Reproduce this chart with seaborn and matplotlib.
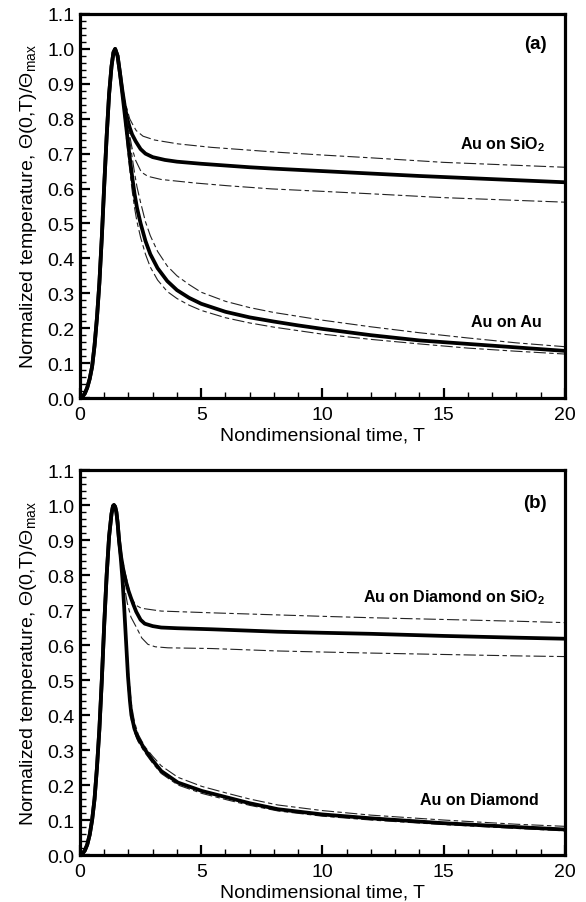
import numpy as np
import pandas as pd
import seaborn as sns
import matplotlib.pyplot as plt
from matplotlib.ticker import MultipleLocator

# ---------------- data ----------------
# (a) laser pulse rise, shared by both cases
t_rise_a = [0, 0.1, 0.2, 0.3, 0.4, 0.5, 0.6, 0.7, 0.8, 0.9, 1.0, 1.1, 1.2, 1.3, 1.38, 1.45]
v_rise_a = [0, 0.004, 0.013, 0.03, 0.055, 0.09, 0.15, 0.23, 0.33, 0.46, 0.61, 0.75, 0.87, 0.95, 0.99, 1.0]

# (a) Au on SiO2
t_sio2 = [1.55, 1.65, 1.75, 1.85, 1.95, 2.05, 2.15, 2.3, 2.5, 2.7, 3.0, 3.5, 4, 5, 6, 7, 8, 10, 12, 14, 16, 18, 20]
v_sio2 = [0.98, 0.93, 0.88, 0.835, 0.80, 0.775, 0.755, 0.735, 0.713, 0.700, 0.690, 0.682, 0.677, 0.671, 0.666,
          0.661, 0.657, 0.650, 0.643, 0.636, 0.630, 0.624, 0.618]
t_sio2_hi = [1.55, 1.7, 1.85, 2.05, 2.2, 2.32, 2.6, 3.08, 4.04, 5.42, 8.16, 10, 12, 15, 20]
v_sio2_hi = [0.98, 0.90, 0.85, 0.80, 0.78, 0.766, 0.75, 0.739, 0.728, 0.718, 0.704, 0.696, 0.688, 0.675, 0.661]
t_sio2_lo = [1.55, 1.7, 1.85, 2.0, 2.15, 2.3, 2.53, 2.8, 3.35, 4.73, 6.1, 7.9, 10, 12, 15, 20]
v_sio2_lo = [0.98, 0.90, 0.83, 0.77, 0.715, 0.68, 0.647, 0.635, 0.626, 0.616, 0.608, 0.599, 0.592, 0.585, 0.574, 0.561]

# (a) Au on Au
t_au = [1.55, 1.65, 1.75, 1.85, 1.95, 2.05, 2.15, 2.25, 2.35, 2.5, 2.7, 2.9, 3.2, 3.6, 4.0, 4.5, 5, 6, 7, 8, 9,
        10, 12, 14, 16, 18, 20]
v_au = [0.98, 0.93, 0.87, 0.81, 0.75, 0.69, 0.635, 0.585, 0.545, 0.5, 0.45, 0.412, 0.372, 0.335, 0.309, 0.287,
        0.27, 0.247, 0.231, 0.219, 0.208, 0.198, 0.18, 0.165, 0.155, 0.145, 0.135]
t_au_hi = [1.55, 1.7, 1.85, 1.95, 2.05, 2.15, 2.25, 2.35, 2.5, 2.7, 2.9, 3.2, 3.6, 4.0, 4.5, 5, 6, 7, 8, 10, 12,
           14, 16, 18, 20]
v_au_hi = [0.98, 0.90, 0.84, 0.79, 0.74, 0.69, 0.645, 0.605, 0.56, 0.505, 0.465, 0.42, 0.378, 0.35, 0.325, 0.303,
           0.277, 0.259, 0.245, 0.223, 0.204, 0.187, 0.172, 0.158, 0.147]
t_au_lo = [1.55, 1.7, 1.85, 1.95, 2.05, 2.15, 2.25, 2.35, 2.5, 2.7, 2.9, 3.2, 3.6, 4.0, 4.5, 5, 6, 7, 8, 10, 12,
           14, 16, 18, 20]
v_au_lo = [0.98, 0.90, 0.79, 0.72, 0.655, 0.595, 0.545, 0.505, 0.46, 0.412, 0.375, 0.338, 0.305, 0.285, 0.266,
           0.251, 0.23, 0.215, 0.203, 0.183, 0.168, 0.155, 0.143, 0.134, 0.126]

# (b) laser pulse rise
t_rise_b = [0, 0.1, 0.2, 0.3, 0.4, 0.5, 0.6, 0.7, 0.8, 0.9, 1.0, 1.1, 1.2, 1.3, 1.36, 1.40]
v_rise_b = [0, 0.004, 0.013, 0.03, 0.058, 0.1, 0.16, 0.25, 0.36, 0.50, 0.66, 0.80, 0.91, 0.975, 0.997, 1.0]

# (b) Au on Diamond on SiO2
t_dos = [1.45, 1.5, 1.55, 1.61, 1.7, 1.8, 1.9, 2.0, 2.1, 2.2, 2.32, 2.5, 2.67, 3.0, 3.35, 4.0, 5.42, 8.16, 10,
         12, 15, 18, 20]
v_dos = [0.995, 0.98, 0.95, 0.90, 0.85, 0.81, 0.78, 0.755, 0.735, 0.716, 0.695, 0.672, 0.661, 0.654, 0.650,
         0.648, 0.645, 0.638, 0.635, 0.632, 0.626, 0.621, 0.618]
t_dos_hi = [1.5, 1.61, 1.7, 1.85, 2.0, 2.12, 2.3, 2.53, 3.35, 5.42, 8.16, 10, 12, 15, 18, 20]
v_dos_hi = [0.98, 0.90, 0.86, 0.81, 0.765, 0.735, 0.714, 0.705, 0.697, 0.692, 0.686, 0.682, 0.678, 0.673,
            0.668, 0.664]
t_dos_lo = [1.5, 1.61, 1.7, 1.8, 1.95, 2.1, 2.33, 2.55, 2.8, 3.1, 3.63, 5.42, 8.16, 10, 12, 15, 18, 20]
v_dos_lo = [0.98, 0.90, 0.84, 0.78, 0.72, 0.68, 0.650, 0.620, 0.602, 0.595, 0.592, 0.590, 0.583, 0.580, 0.577,
            0.573, 0.569, 0.567]

# (b) Au on Diamond
t_dia = [1.45, 1.5, 1.55, 1.61, 1.68, 1.75, 1.82, 1.9, 1.98, 2.06, 2.12, 2.25, 2.39, 2.67, 3.0, 3.35, 4.04, 5.03,
         6.1, 7, 8.16, 10, 12, 15, 18, 20]
v_dia = [0.995, 0.98, 0.95, 0.90, 0.85, 0.79, 0.71, 0.61, 0.51, 0.44, 0.40, 0.36, 0.335, 0.302, 0.27, 0.24,
         0.207, 0.183, 0.164, 0.148, 0.131, 0.116, 0.105, 0.091, 0.08, 0.073]
t_dia_hi = [1.5, 1.61, 1.75, 1.84, 1.92, 2.0, 2.12, 2.25, 2.4, 2.67, 3.0, 3.35, 4.04, 5.03, 6.1, 7, 8.16, 10, 12,
            15, 18, 20]
v_dia_hi = [0.98, 0.90, 0.80, 0.71, 0.61, 0.52, 0.43, 0.38, 0.345, 0.31, 0.282, 0.255, 0.222, 0.196, 0.176, 0.16,
            0.143, 0.127, 0.114, 0.1, 0.088, 0.082]
t_dia_lo = [1.5, 1.61, 1.75, 1.84, 1.91, 1.98, 2.12, 2.25, 2.39, 2.67, 3.0, 3.35, 4.04, 5.03, 6.1, 7, 8.16, 10,
            12, 15, 18, 20]
v_dia_lo = [0.98, 0.90, 0.79, 0.69, 0.59, 0.48, 0.385, 0.35, 0.325, 0.293, 0.262, 0.233, 0.2, 0.176, 0.157,
            0.142, 0.126, 0.111, 0.1, 0.087, 0.076, 0.069]

xticks = [0, 5, 10, 15, 20]
yticks = [0.0, 0.1, 0.2, 0.3, 0.4, 0.5, 0.6, 0.7, 0.8, 0.9, 1.0, 1.1]

# ---------------- style ----------------
sns.set_style("ticks")
plt.rcParams['font.family'] = ['Liberation Sans', 'DejaVu Sans']
plt.rcParams['mathtext.fontset'] = 'custom'
plt.rcParams['mathtext.rm'] = 'Liberation Sans'
plt.rcParams['mathtext.it'] = 'Liberation Sans:italic'
plt.rcParams['mathtext.bf'] = 'Liberation Sans:bold'
for k in ['axes.edgecolor', 'axes.labelcolor', 'text.color', 'xtick.color', 'ytick.color']:
    plt.rcParams[k] = 'black'

fig = plt.figure(figsize=(5.86, 9.03), dpi=100)
ax_a = fig.add_axes([0.1365, 0.5581, 0.8276, 0.4253])
ax_b = fig.add_axes([0.1365, 0.0520, 0.8276, 0.4264])

dash_style = (0, (11, 3, 4, 3))


def draw_case(ax, t_rise, v_rise, t, v, t_hi, v_hi, t_lo, v_lo):
    # thin dashed bounds first, thick solid on top
    for tt, vv in [(t_hi, v_hi), (t_lo, v_lo)]:
        sns.lineplot(x=t_rise + tt, y=v_rise + vv, ax=ax, color='#222222', lw=0.8,
                     linestyle=dash_style, sort=False, estimator=None)
    sns.lineplot(x=t_rise + t, y=v_rise + v, ax=ax, color='black', lw=2.7,
                 sort=False, estimator=None)


draw_case(ax_a, t_rise_a, v_rise_a, t_sio2, v_sio2, t_sio2_hi, v_sio2_hi, t_sio2_lo, v_sio2_lo)
draw_case(ax_a, t_rise_a, v_rise_a, t_au, v_au, t_au_hi, v_au_hi, t_au_lo, v_au_lo)
draw_case(ax_b, t_rise_b, v_rise_b, t_dos, v_dos, t_dos_hi, v_dos_hi, t_dos_lo, v_dos_lo)
draw_case(ax_b, t_rise_b, v_rise_b, t_dia, v_dia, t_dia_hi, v_dia_hi, t_dia_lo, v_dia_lo)

ylab = 'Normalized temperature, Θ(0,T)/Θ$_{\\mathrm{max}}$'
for ax in [ax_a, ax_b]:
    ax.set_xlim(0, 20)
    ax.set_ylim(0, 1.1)
    ax.set_xticks(xticks)
    ax.set_xticklabels([str(x) for x in xticks])
    ax.set_yticks(yticks)
    ax.set_yticklabels(['%.1f' % y for y in yticks])
    ax.xaxis.set_minor_locator(MultipleLocator(1))
    ax.yaxis.set_minor_locator(MultipleLocator(0.02))
    ax.tick_params(which='major', direction='in', length=7, width=1.6, labelsize=14, pad=4,
                   top=False, right=False)
    ax.tick_params(which='minor', direction='in', length=4, width=1.0, top=False, right=False)
    ax.tick_params(axis='x', which='major', pad=6)
    for s in ax.spines.values():
        s.set_visible(True)
        s.set_linewidth(2.3)
        s.set_color('black')
    ax.set_xlabel('Nondimensional time, T', fontsize=14, labelpad=2)
    ax.set_ylabel(ylab, fontsize=14, labelpad=6)

ax_a.text(19.25, 1.015, '(a)', fontsize=13.5, fontweight='bold', ha='right', va='center')
ax_a.text(19.2, 0.728, 'Au on SiO$_{\\mathbf{2}}$', fontsize=11.5, fontweight='bold', ha='right', va='center')
ax_a.text(19.05, 0.218, 'Au on Au', fontsize=11.5, fontweight='bold', ha='right', va='center')

ax_b.text(19.25, 1.008, '(b)', fontsize=13.5, fontweight='bold', ha='right', va='center')
ax_b.text(19.2, 0.739, 'Au on Diamond on SiO$_{\\mathbf{2}}$', fontsize=11.5, fontweight='bold',
          ha='right', va='center')
ax_b.text(18.9, 0.159, 'Au on Diamond', fontsize=11.5, fontweight='bold', ha='right', va='center')

plt.savefig('out.png', dpi=100)
